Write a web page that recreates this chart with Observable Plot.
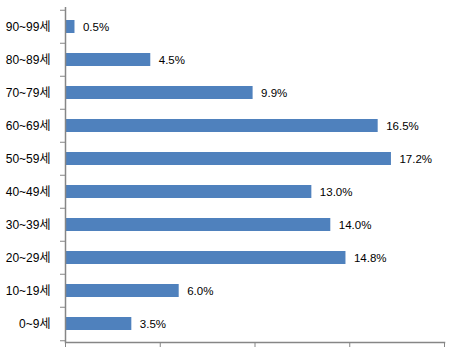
<!DOCTYPE html>
<html>
<head>
<meta charset="utf-8">
<script src="https://cdn.jsdelivr.net/npm/d3@7"></script>
<script src="https://cdn.jsdelivr.net/npm/@observablehq/plot@0.6"></script>
<style>
  body { margin: 0; background: #fff; }
  svg { font-family: "Liberation Sans", Arial, "Noto Sans CJK KR", sans-serif; }
</style>
</head>
<body>
<div id="chart"></div>
<script>
const ageGroups = ["90~99세", "80~89세", "70~79세", "60~69세", "50~59세", "40~49세", "30~39세", "20~29세", "10~19세", "0~9세"];
const shares = [0.5, 4.5, 9.9, 16.5, 17.2, 13.0, 14.0, 14.8, 6.0, 3.5];
const xTicks = [0, 5, 10, 15, 20];

const data = ageGroups.map((g, i) => ({group: g, value: shares[i]}));

const W = 465, H = 356;
const mt = 7, mb = 14, ml = 65, mr = 21;
const half = (H - mt - mb) / ageGroups.length / 2;
const axisColor = "#868686";
const barColor = "#4F81BD";

const chart = Plot.plot({
  width: W,
  height: H,
  marginTop: mt,
  marginBottom: mb,
  marginLeft: ml,
  marginRight: mr,
  style: {fontSize: "12px", color: "#000", background: "#fff"},
  x: {domain: [0, 20], axis: null, label: null},
  y: {domain: ageGroups, padding: 0, axis: null, label: null},
  marks: [
    Plot.barX(data, {x: "value", y: "group", fill: barColor, insetTop: 10, insetBottom: 10}),
    Plot.text(data, {x: "value", y: "group", text: d => d.value.toFixed(1) + "%", textAnchor: "start", dx: 8, fill: "#000", fontSize: 11.5}),
    Plot.axisY({tickSize: 0, tickPadding: 15, fontSize: 12, fill: "#000", label: null}),
    Plot.axisY({tickFormat: () => "", tickSize: 5, dy: -half, stroke: axisColor, label: null}),
    Plot.axisY({ticks: [ageGroups[ageGroups.length - 1]], tickFormat: () => "", tickSize: 5, dy: half, stroke: axisColor, label: null}),
    Plot.axisX({ticks: xTicks, tickFormat: () => "", tickSize: 5, stroke: axisColor, label: null}),
    Plot.ruleX([0], {stroke: axisColor, strokeWidth: 1.5}),
    Plot.frame({anchor: "bottom", stroke: axisColor, strokeWidth: 1.5})
  ]
});
document.getElementById("chart").appendChild(chart);
</script>
</body>
</html>
